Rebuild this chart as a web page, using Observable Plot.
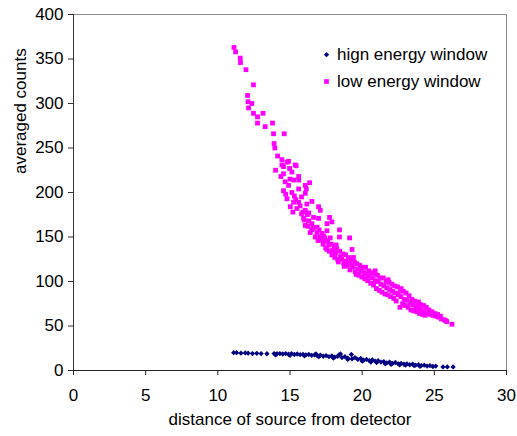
<!DOCTYPE html>
<html><head><meta charset="utf-8">
<script src="https://cdn.jsdelivr.net/npm/d3@7"></script>
<script src="https://cdn.jsdelivr.net/npm/@observablehq/plot@0.6"></script>
<style>
body{margin:0;background:#fff;}
#wrap{position:relative;width:517px;height:436px;font-family:"Liberation Sans",Arial,sans-serif;}
#legend{position:absolute;left:0;top:0;pointer-events:none;}
</style></head><body><div id="wrap"></div>
<script>
const seriesNames = ["hign energy window", "low energy window"];
const seriesColors = ["#000080", "#FF00FF"];
const xTitle = "distance of source from detector";
const yTitle = "averaged counts";
const xTicks = [0, 5, 10, 15, 20, 25, 30];
const yTicks = [0, 50, 100, 150, 200, 250, 300, 350, 400];

// high energy window: [distance, counts]
const highPoints = [
  [11.1,20],[11.3,20],[11.6,19.5],[11.9,19.8],[12.1,19.5],[12.4,19],[12.7,19.3],[13.0,19],[13.4,18.8],
  [13.9,19],[14.1,18.8],[14.3,19],[14.5,18.5],[14.7,19],[14.9,18.3],[15.1,18.8],[15.3,18],[15.5,18.5],
  [15.7,17.8],[15.9,18.2],[16.1,17.5],[16.3,18],[16.5,17],[16.7,17.5],[16.9,16.5],[17.1,17.2],[17.3,16],
  [17.5,16.8],[17.7,15.5],[17.9,16.5],[18.1,15],[18.3,16],[18.5,18.5],[18.6,14.5],[18.8,15.5],[19.0,14],
  [19.25,18],[19.3,13],[19.5,14.5],[19.7,12.5],[19.9,13.5],[20.1,11.5],[20.3,12.5],[20.5,11],[20.7,12],
  [20.9,10.5],[21.1,11],[21.3,9.5],[21.5,10],[21.7,8.5],[21.9,9.5],[22.1,8],[22.3,9],[22.5,7.5],[22.7,8],
  [22.9,7],[23.1,7.5],[23.3,6.5],[23.5,7],[23.7,6],[23.9,6.5],[24.1,5.5],[24.3,6],[24.5,5],[24.7,5.5],
  [24.9,4.5],[25.1,5],[25.6,4],[25.9,4],[26.3,4],
  [14.0,17.5],[15.0,17],[16.0,16.5],[17.0,15.5],[18.0,14],[19.0,12.5],[20.0,10.5],[21.0,9],[22.0,7],
  [23.0,6],[24.0,4.8],[18.4,17.5],[16.8,18.5],[20.6,9.5],[21.6,7.5],[22.6,6.5],[23.6,5.5]
];

// low energy window: [distance, counts]
const lowPoints = [
  [11.12,363],[11.23,358],[11.55,351],[11.57,346],[11.95,338],[12.47,321],[12.06,309],[12.09,302],
  [12.13,295],[12.36,300],[12.47,289],[12.75,285],[13.13,289],[12.75,278],[13.28,274],[13.79,278],
  [13.86,266],[14.6,266],[13.9,255],[13.95,250],[14.14,241],[14.44,237],[14.9,235],[14.0,225],
  [14.55,229],[14.97,227],[15.43,230],[14.37,218],[15.13,223],[15.6,218],[14.44,231],[14.79,234],
  [15.36,231],[14.55,221],[15.6,214],[14.67,212],[15.25,214],[16.06,208],[16.36,211],[14.55,202],
  [15.13,200],[15.6,204],[16.06,199],[16.13,204],[14.79,193],[15.25,189],[15.6,189],[16.17,187],
  [16.52,190],[15.02,184],[15.48,182],[16.06,180],[16.98,184],[17.1,180],[15.94,171],[16.63,172],
  [16.98,171],[17.74,172],[16.06,163],[16.52,165],[16.87,161],[17.56,165],[17.9,167],[16.4,155],
  [16.87,155],[17.56,157],[18.43,158],[16.75,150],[17.33,151],[17.79,149],[18.43,150],[19.13,149],
  [19.3,136],[15.3,196],[15.8,195],[14.9,208],[15.0,215],[15.9,178],[16.3,168],[16.2,175],[16.6,160],
  [14.7,198],[15.4,192],[15.7,185],[15.2,178],[15.8,176],[16.3,177],[16.0,169],[16.5,158],[16.25,162],
  [17.02,158],[17.08,150],[16.94,146],[17.22,154],[17.16,147],[17.29,142],[17.41,149],[17.35,145],
  [17.47,138],[17.62,146],[17.68,141],[17.55,136],[17.86,142],[17.73,134],[17.9,130],[18.06,139],
  [17.95,135],[18.1,127],[18.24,137],[18.15,132],[18.3,125],[18.44,134],[18.5,128],[18.35,122],
  [18.66,131],[18.58,125],[18.72,120],[18.85,130],[18.9,123],[18.77,117],[19.05,127],[19.1,121],
  [18.97,118],[19.24,125],[19.28,119],[19.15,113],[19.46,122],[19.38,116],[19.52,111],[19.63,120],
  [19.71,114],[19.58,108],[19.84,118],[19.9,112],[19.76,107],[20.06,116],[20.12,110],[19.98,105],
  [20.24,116],[20.3,108],[20.19,103],[20.45,112],[20.5,106],[20.38,101],[20.66,110],[20.71,104],
  [20.59,98],[20.86,109],[20.92,101],[20.79,96],[21.06,107],[21.12,100],[20.99,92],[21.25,104],
  [21.3,97],[21.19,90],[21.46,104],[21.5,95],[21.37,88],[21.66,100],[21.7,93],[21.58,86],
  [21.86,99],[21.9,91],[21.78,85],[22.06,97],[22.11,89],[21.97,83],[22.24,95],[22.3,87],[22.19,81],
  [22.45,94],[22.5,85],[22.36,78],[22.64,90],[22.69,83],[22.62,71],[22.85,89],[22.9,80],[22.8,75],
  [23.04,87],[23.1,79],[22.97,73],[23.25,84],[23.3,76],[23.18,71],[23.45,80],[23.5,74],[23.38,68],
  [23.62,78],[23.7,71],[23.57,67],[23.84,76],[23.9,70],[23.78,66],[24.04,74],[24.1,68],[23.98,64],
  [24.25,73],[24.3,66],[24.18,63],[24.44,71],[24.5,64],[24.36,62],[24.63,68],[24.7,63],[24.84,66],
  [24.9,62],[25.04,64],[25.1,61],[25.22,63],[25.28,60],[25.42,61],[25.48,58],[25.68,57],[25.78,56],
  [25.86,55],[26.22,52],[20.9,112],[21.8,102],[22.7,92],[19.4,127],[18.2,141],[23.9,77]
];

const chart = Plot.plot({
  width: 517,
  height: 436,
  marginLeft: 73,
  marginRight: 11,
  marginTop: 14,
  marginBottom: 66,
  style: {fontFamily: '"Liberation Sans", Arial, sans-serif', fontSize: "17px", color: "#000", background: "#fff"},
  x: {domain: [0, 30]},
  y: {domain: [0, 400]},
  marks: [
    Plot.frame({stroke: "#8c8c8c"}),
    Plot.axisX({ticks: xTicks, tickSize: 5, tickPadding: 13, label: null, stroke: "#222", fill: "#000"}),
    Plot.axisY({ticks: yTicks, tickSize: 5, tickPadding: 5, label: null, stroke: "#333", fill: "#000"}),
    Plot.ruleY([0], {stroke: "#222"}),
    Plot.ruleX([0], {stroke: "#333"}),
    Plot.text([xTitle], {frameAnchor: "bottom", dy: 54, fontSize: 17, fill: "#000"}),
    Plot.text([yTitle], {frameAnchor: "left", rotate: -90, dx: -53.4, dy: -18.5, fontSize: 17, fill: "#000"}),
    Plot.dot(highPoints, {x: d => d[0], y: d => d[1], symbol: "diamond2", r: 2.4, fill: seriesColors[0]}),
    Plot.dot(lowPoints, {x: d => d[0], y: d => d[1], symbol: "square", r: 2.7, fill: seriesColors[1]})
  ]
});
const wrap = document.getElementById("wrap");
wrap.appendChild(chart);

// legend overlay
const leg = d3.select(wrap).append("svg").attr("id", "legend").attr("width", 517).attr("height", 436);
const legendRows = [
  {name: seriesNames[0], color: seriesColors[0], sym: d3.symbolDiamond2, size: 18, cy: 54.7, base: 60},
  {name: seriesNames[1], color: seriesColors[1], sym: d3.symbolSquare, size: 22, cy: 81.5, base: 87}
];
legendRows.forEach(r => {
  leg.append("path").attr("d", d3.symbol(r.sym, r.size)()).attr("transform", `translate(326.5,${r.cy})`).attr("fill", r.color);
  leg.append("text").attr("x", 337).attr("y", r.base).attr("font-size", 17)
    .attr("font-family", '"Liberation Sans", Arial, sans-serif').attr("fill", "#000").text(r.name);
});
</script></body></html>
